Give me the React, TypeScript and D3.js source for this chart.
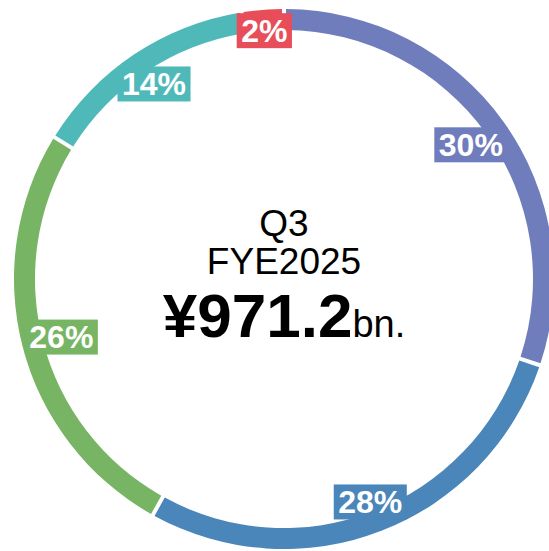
import React, { useEffect, useRef } from 'react';
import * as d3 from 'd3';

// segment shares, clockwise from the top
const segments = ['A', 'B', 'C', 'D', 'E'];
const shares = [30.3, 28.0, 25.8, 13.6, 2.3];
const colors = ['#6f7dbd', '#4a86b9', '#77b564', '#4fb9b9', '#e84d5a'];

const centerLines = ['Q3', 'FYE2025'];
const amountValue = '¥971.2';
const amountUnit = 'bn.';

const WIDTH = 549;
const HEIGHT = 551;
const FONT = '"Liberation Sans", Arial, Helvetica, sans-serif';

const App: React.FC = () => {
  const svgRef = useRef<SVGSVGElement>(null);

  useEffect(() => {
    if (!svgRef.current) return;
    const svg = d3.select(svgRef.current);
    svg.selectAll('*').remove();

    const cx = 284;
    const cy = 279;
    const outer = 270;
    const inner = 249;

    const g = svg.append('g').attr('transform', `translate(${cx},${cy})`);

    const data = segments.map((s, i) => ({ key: s, value: shares[i], color: colors[i] }));

    const pie = d3
      .pie<any>()
      .value((d: any) => d.value)
      .sort(null)
      .padAngle(4 / 260);

    const arc = d3.arc<any>().innerRadius(inner).outerRadius(outer).padRadius(260);

    const arcs = pie(data);

    g.selectAll('path.slice')
      .data(arcs)
      .enter()
      .append('path')
      .attr('class', 'slice')
      .attr('d', arc)
      .attr('fill', (d: any) => d.data.color);

    // labels: box pushed out until its far corner touches the outer edge
    const labelG = g.selectAll('g.label').data(arcs).enter().append('g').attr('class', 'label');

    labelG.each(function (this: any, d: any) {
      const self = d3.select(this);
      const rect = self.append('rect').attr('fill', d.data.color);
      const text = self
        .append('text')
        .attr('text-anchor', 'middle')
        .attr('dy', '0.355em')
        .style('font-family', FONT)
        .style('font-weight', 'bold')
        .style('font-size', '32px')
        .style('fill', '#fff')
        .text(Math.round(d.data.value) + '%');

      const tw = (text.node() as SVGTextElement).getComputedTextLength();
      const w = tw + 9;
      const h = 35;
      rect.attr('x', -w / 2).attr('y', -h / 2).attr('width', w).attr('height', h);

      const a = (d.startAngle + d.endAngle) / 2;
      const ux = Math.sin(a);
      const uy = -Math.cos(a);
      const hx = (ux >= 0 ? 1 : -1) * (w / 2);
      const hy = (uy >= 0 ? 1 : -1) * (h / 2);
      const b = ux * hx + uy * hy;
      const c = hx * hx + hy * hy - outer * outer;
      const r = -b + Math.sqrt(b * b - c);
      self.attr('transform', `translate(${r * ux},${r * uy})`);
    });

    // centre text
    const center = g.append('g').style('font-family', FONT).attr('text-anchor', 'middle');
    center
      .append('text')
      .attr('y', -43)
      .style('font-size', '37px')
      .style('fill', '#000')
      .text(centerLines[0]);
    center
      .append('text')
      .attr('y', -5)
      .style('font-size', '37px')
      .style('fill', '#000')
      .text(centerLines[1]);
    const amount = center.append('text').attr('y', 58).style('fill', '#000');
    amount.append('tspan').style('font-size', '62px').style('font-weight', 'bold').text(amountValue);
    amount.append('tspan').style('font-size', '38px').text(amountUnit);
  }, []);

  return (
    <svg
      ref={svgRef}
      width={WIDTH}
      height={HEIGHT}
      style={{ position: 'absolute', left: 0, top: 0, background: '#fff' }}
    />
  );
};

export default App;
